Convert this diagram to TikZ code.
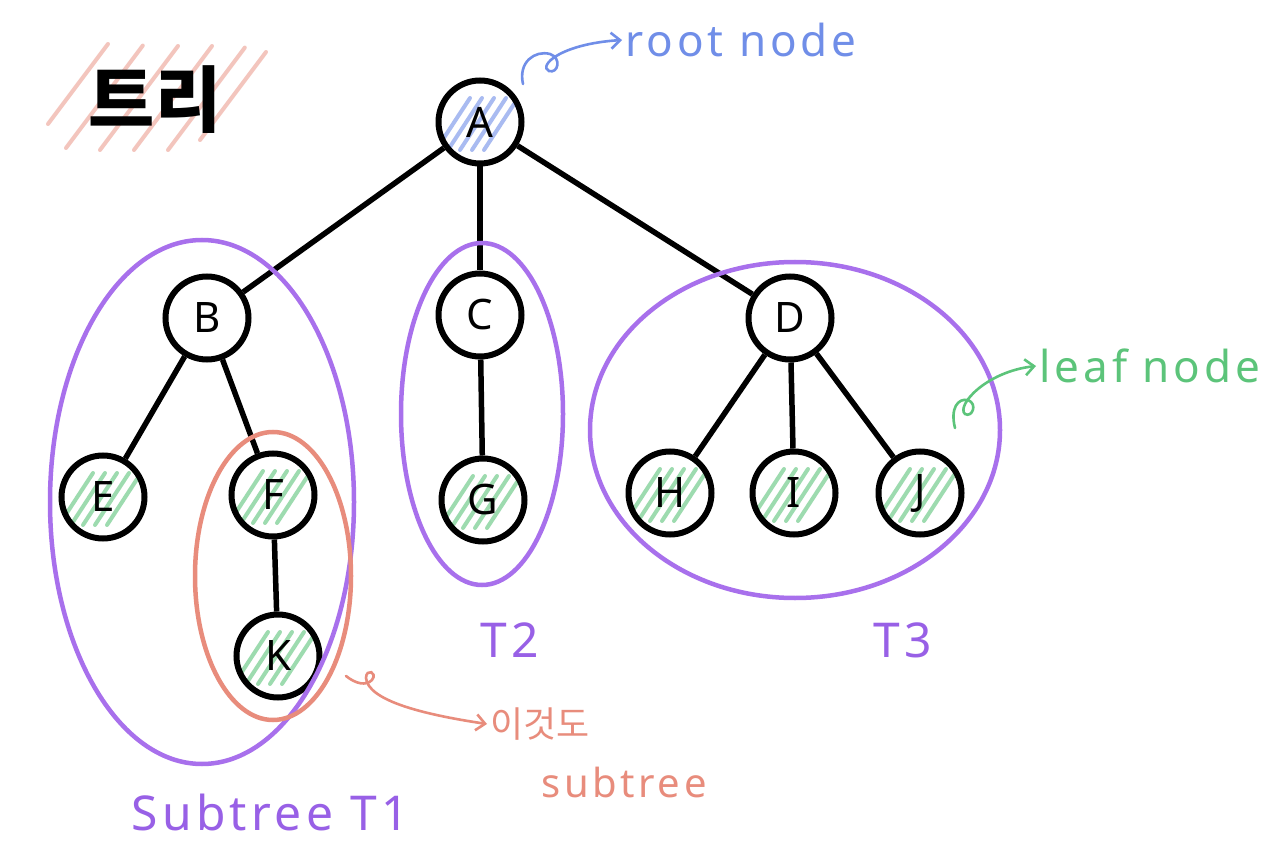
\documentclass[tikz,border=0pt]{standalone}
\usepackage{fontspec}
\setmainfont{Noto Sans}
\newfontfamily\krfont{Noto Sans CJK KR}
\newfontfamily\handfont[LetterSpace=9]{Noto Sans}
\usetikzlibrary{arrows.meta,calc}

\definecolor{ringpurple}{RGB}{168,112,236}
\definecolor{labpurple}{RGB}{152,96,230}
\definecolor{salmon}{RGB}{232,140,124}
\definecolor{rootblue}{RGB}{112,142,232}
\definecolor{leafgreen}{RGB}{92,196,122}

\tikzset{
  treenode/.style={circle, draw=black, line width=6pt, fill=white,
    minimum size=83pt, inner sep=0pt, font=\fontsize{42}{42}\selectfont},
  edge/.style={line width=5.5pt, black},
  hatchline/.style={line width=4pt, line cap=round, opacity=0.6},
  hatched/.style={path picture={
    \foreach \d in {-26,-14,-2,10,22}
      \draw[hatchline,#1] ([xshift=\d pt]path picture bounding box.center) ++(-18,28) -- ++(34,-52);}},
  subring/.style={draw=ringpurple, line width=4.5pt},
  note/.style={line width=2.6pt, line cap=round, -{Straight Barb[length=9pt,width=16pt,line width=2.6pt]}},
  handlab/.style={font=\handfont\fontsize{44}{44}\selectfont},
}

\begin{document}
\begin{tikzpicture}[x=1pt,y=-1pt]
\useasboundingbox (0,0) rectangle (1280,842);
\fill[white] (0,0) rectangle (1280,842);

% title with red hatching
\foreach \x/\y/\l in {48/124/100, 66/148/128, 100/150/130, 134/150/130, 168/150/128, 200/140/110}
  \draw[hatchline, salmon, line width=4pt, opacity=0.5] (\x,\y) -- ++({0.6*\l},{-0.8*\l});
\node[font=\krfont\bfseries\fontsize{72}{72}\selectfont, anchor=center] (title) at (155,100) {트리};

% tree nodes
\node[treenode, hatched=rootblue] (A) at (480,122) {A};
\node[treenode] (B) at (207,318) {B};
\node[treenode] (C) at (480,315) {C};
\node[treenode] (D) at (790,318) {D};
\node[treenode, hatched=leafgreen] (E) at (103,497) {E};
\node[treenode, hatched=leafgreen] (F) at (273,495) {F};
\node[treenode, hatched=leafgreen] (G) at (483,500) {G};
\node[treenode, hatched=leafgreen] (H) at (670,493) {H};
\node[treenode, hatched=leafgreen] (I) at (794,493) {I};
\node[treenode, hatched=leafgreen] (J) at (920,493) {J};
\node[treenode, hatched=leafgreen] (K) at (278,656) {K};

% edges
\foreach \p/\c in {A/B, A/C, A/D, B/E, B/F, C/G, D/H, D/I, D/J, F/K}
  \draw[edge] (\p) -- (\c);

% subtree outlines
\draw[subring] (202,502) ellipse [x radius=152, y radius=262];
\draw[subring] (482,414) ellipse [x radius=81, y radius=171];
\draw[subring] (795,430) ellipse [x radius=205, y radius=168];
\draw[draw=salmon, line width=4.5pt] (273,576) ellipse [x radius=78, y radius=144];

% subtree labels
\node[handlab, text=labpurple, font=\handfont\fontsize{48}{48}\selectfont] (t1) at (270,812) {Subtree T1};
\node[handlab, text=labpurple, font=\handfont\fontsize{48}{48}\selectfont] (t2) at (510,640) {T2};
\node[handlab, text=labpurple, font=\handfont\fontsize{48}{48}\selectfont] (t3) at (903,640) {T3};

% root note
\node[handlab, text=rootblue, anchor=west] (rootlab) at (622,40) {root node};
\coordinate (rootstart) at (523,84);
\draw[note, rootblue] (rootstart) .. controls (518,62) and (535,50) .. (550,54)
  .. controls (562,58) and (558,74) .. (549,71)
  .. controls (538,66) and (560,44) .. (rootlab.west);

% leaf note
\node[handlab, text=leafgreen, anchor=west] (leaflab) at (1036,366) {leaf node};
\coordinate (leafstart) at (955,428);
\draw[note, leafgreen] (leafstart) .. controls (950,408) and (958,398) .. (968,400)
  .. controls (978,404) and (972,418) .. (965,414)
  .. controls (956,406) and (985,372) .. (leaflab.west);

% nested subtree note
\node[text=salmon, font=\krfont\fontsize{36}{36}\selectfont, anchor=west] (kr) at (487,724) {이것도};
\node[handlab, text=salmon, font=\handfont\fontsize{40}{40}\selectfont] (sublab) at (624,782) {subtree};
\coordinate (krstart) at (346,676);
\draw[note, salmon] (krstart) .. controls (356,684) and (366,686) .. (372,680)
  .. controls (378,672) and (366,668) .. (366,678)
  .. controls (368,700) and (420,714) .. (kr.west);
\end{tikzpicture}
\end{document}
